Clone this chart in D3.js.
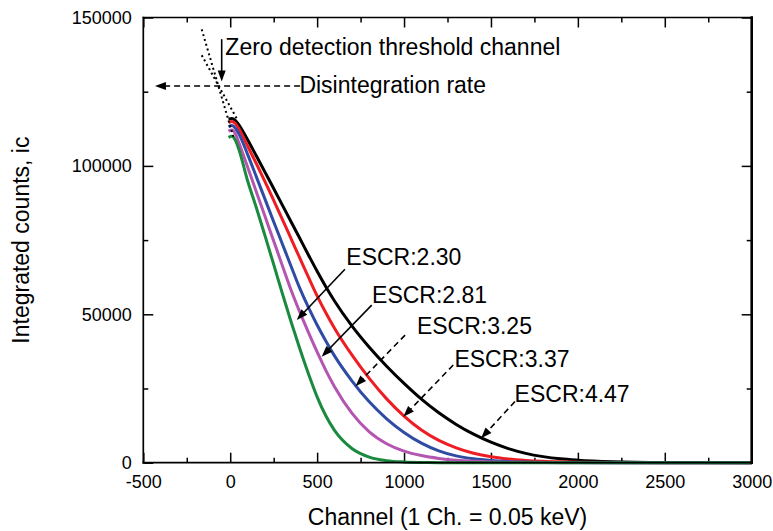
<!DOCTYPE html>
<html>
<head>
<meta charset="utf-8">
<script src="https://cdn.jsdelivr.net/npm/d3@7"></script>
<style>
  body { margin: 0; background: #fff; }
  text { font-family: "Liberation Sans", Arial, sans-serif; fill: #000; }
</style>
</head>
<body>
<div class="canvas"></div>
<script>
// channel grid shared by all curves
const channels = [-10, 10, 30, 50, 100, 150, 200, 250, 300, 350, 400, 450, 500, 550, 600,
  700, 800, 900, 1000, 1100, 1200, 1300, 1400, 1500, 1600, 1700, 1800, 1900, 2000, 2200, 2500, 3000];

// integrated counts for each ESCR value
const escr230 = [109600, 110000, 108600, 105500, 95000, 86000, 76500, 66800, 57000, 47500, 38500, 30000, 22200, 15800, 10900,
  4800, 1900, 700, 250, 80, 20, 0, 0, 0, 0, 0, 0, 0, 0, 0, 0, 0];
const escr281 = [111700, 112100, 110800, 107800, 99600, 91300, 83000, 74700, 66400, 58200, 50800, 43900, 37300, 31100, 25600,
  16700, 10400, 6400, 3900, 2400, 1450, 850, 480, 260, 140, 70, 35, 15, 5, 0, 0, 0];
const escr325 = [113200, 113600, 112700, 110800, 103900, 96400, 88800, 81200, 73700, 66200, 58800, 52300, 46400, 41000, 36000,
  27600, 20500, 14800, 10200, 6600, 4000, 2300, 1300, 720, 400, 220, 120, 60, 30, 10, 0, 0];
const escr337 = [114600, 115000, 114300, 112500, 106700, 100800, 94700, 88400, 82000, 75500, 69000, 62500, 56200, 50500, 45300,
  36300, 28400, 21500, 15700, 11000, 7500, 5000, 3200, 2000, 1250, 780, 480, 290, 170, 60, 10, 0];
const escr447 = [115800, 116000, 115300, 113800, 108800, 103400, 97900, 92400, 86800, 81200, 75600, 70000, 64500, 59300, 54500,
  46100, 38900, 32500, 26700, 21400, 16800, 12900, 9600, 6900, 4750, 3150, 2050, 1300, 850, 350, 90, 0];

const seriesNames = ["ESCR:2.30", "ESCR:2.81", "ESCR:3.25", "ESCR:3.37", "ESCR:4.47"];
const seriesValues = [escr230, escr281, escr325, escr337, escr447];
const seriesColors = ["#1a8a3f", "#b455b2", "#2f4ba3", "#ee1d24", "#000000"];

// dotted extrapolation lines back to the disintegration rate
const fitChannels447 = [-164, 37];
const fitCounts447 = [137300, 116000];
const fitChannels230 = [-164, 18];
const fitCounts230 = [146000, 109800];

// ticks
const xTicks = [-500, 0, 500, 1000, 1500, 2000, 2500, 3000];
const xMinor = [-250, 250, 750, 1250, 1750, 2250, 2750];
const yTicks = [0, 50000, 100000, 150000];
const yMinor = [25000, 75000, 125000];

const margin = {
  top: 17.5,
  bottom: 68.3,
  left: 143.3,
  right: 21.3,
};

const width = 773;
const height = 531;
const graphWidth = width - margin.left - margin.right;
const graphHeight = height - margin.top - margin.bottom;

const svg = d3
  .select(".canvas")
  .append("svg")
  .attr("width", width)
  .attr("height", height);

const graph = svg
  .append("g")
  .attr("transform", `translate(${margin.left},${margin.top})`);

// scales
const x = d3.scaleLinear().domain([-500, 3000]).range([0, graphWidth]);
const y = d3.scaleLinear().domain([0, 150000]).range([graphHeight, 0]);

// axes (ticks point inward on all four sides)
const fmt = (d) => String(d);
const styleAxis = (g) => {
  g.select(".domain").remove();
  g.selectAll(".tick line").attr("stroke", "#000").attr("stroke-width", 1.5);
  g.attr("font-size", 18).attr("font-family", '"Liberation Sans", Arial, sans-serif');
};

graph.append("g")
  .attr("transform", `translate(0,${graphHeight})`)
  .call(d3.axisBottom(x).tickValues(xTicks).tickSize(-10).tickPadding(12.5).tickFormat(fmt))
  .call(styleAxis);
graph.append("g")
  .attr("transform", `translate(0,${graphHeight})`)
  .call(d3.axisBottom(x).tickValues(xMinor).tickSize(-5).tickFormat(""))
  .call(styleAxis);
graph.append("g")
  .call(d3.axisTop(x).tickValues(xTicks).tickSize(-10).tickFormat(""))
  .call(styleAxis);
graph.append("g")
  .call(d3.axisTop(x).tickValues(xMinor).tickSize(-5).tickFormat(""))
  .call(styleAxis);
graph.append("g")
  .call(d3.axisLeft(y).tickValues(yTicks).tickSize(-10).tickPadding(11.5).tickFormat(fmt))
  .call(styleAxis);
graph.append("g")
  .call(d3.axisLeft(y).tickValues(yMinor).tickSize(-5).tickFormat(""))
  .call(styleAxis);
graph.append("g")
  .attr("transform", `translate(${graphWidth},0)`)
  .call(d3.axisRight(y).tickValues(yTicks).tickSize(-10).tickFormat(""))
  .call(styleAxis);
graph.append("g")
  .attr("transform", `translate(${graphWidth},0)`)
  .call(d3.axisRight(y).tickValues(yMinor).tickSize(-5).tickFormat(""))
  .call(styleAxis);

// curves
const line = d3
  .line()
  .x((d) => x(d[0]))
  .y((d) => y(d[1]))
  .curve(d3.curveMonotoneX);

const order = [4, 3, 2, 1, 0];
order.forEach((i) => {
  graph.append("path")
    .datum(channels.map((c, k) => [c, seriesValues[i][k]]))
    .attr("fill", "none")
    .attr("stroke", seriesColors[i])
    .attr("stroke-width", 3)
    .attr("stroke-linejoin", "round")
    .attr("d", line);
});

// dotted extrapolations
[[fitChannels447, fitCounts447], [fitChannels230, fitCounts230]].forEach(([cs, vs]) => {
  graph.append("path")
    .datum(cs.map((c, k) => [c, vs[k]]))
    .attr("fill", "none")
    .attr("stroke", "#000")
    .attr("stroke-width", 2)
    .attr("stroke-dasharray", "2,3")
    .attr("d", d3.line().x((d) => x(d[0])).y((d) => y(d[1])));
});

// frame
const frame = [
  [0, 0, graphWidth, 0, 1.5],
  [0, 0, 0, graphHeight, 1.7],
  [0, graphHeight, graphWidth, graphHeight, 1.8],
  [graphWidth, 0, graphWidth, graphHeight, 2.6],
];
frame.forEach(([x1, y1, x2, y2, w]) => {
  graph.append("line")
    .attr("x1", x1).attr("y1", y1).attr("x2", x2).attr("y2", y2)
    .attr("stroke", "#000").attr("stroke-width", w).attr("stroke-linecap", "square");
});

// arrow helper: line from (from) to (to) in data units, filled head at "to"
function arrow(from, to, dashed) {
  const x1 = x(from[0]), y1 = y(from[1]);
  const x2 = x(to[0]), y2 = y(to[1]);
  const len = Math.hypot(x2 - x1, y2 - y1);
  const ux = (x2 - x1) / len, uy = (y2 - y1) / len;
  const head = 11, half = 4;
  const bx = x2 - ux * head, by = y2 - uy * head;
  graph.append("line")
    .attr("x1", x1).attr("y1", y1).attr("x2", bx + ux * 1).attr("y2", by + uy * 1)
    .attr("stroke", "#000").attr("stroke-width", 1.6)
    .attr("stroke-dasharray", dashed ? "6,4" : null);
  graph.append("path")
    .attr("d", `M${x2},${y2}L${bx - uy * half},${by + ux * half}L${bx + uy * half},${by - ux * half}Z`)
    .attr("fill", "#000");
}

function label(text, at) {
  graph.append("text")
    .attr("x", x(at[0]))
    .attr("y", y(at[1]))
    .attr("font-size", 23)
    .text(text);
}

// ESCR annotations (text anchor, arrow start, arrow tip; data units)
const notes = [
  { at: [668, 66600], from: [660, 65200], to: [383, 48100], dashed: false },
  { at: [816, 53900], from: [814, 53100], to: [526, 35700], dashed: false },
  { at: [1074, 43400], from: [1006, 43000], to: [721, 25800], dashed: true },
  { at: [1290, 32300], from: [1283, 32900], to: [996, 15500], dashed: true },
  { at: [1636, 20600], from: [1638, 20600], to: [1443, 8200], dashed: true },
];
notes.forEach((n, i) => {
  arrow(n.from, n.to, n.dashed);
  label(seriesNames[i], n.at);
});

// zero detection threshold channel
arrow([-49, 142700], [-49, 128400], false);
label("Zero detection threshold channel", [-28, 137500]);

// disintegration rate
arrow([402, 126900], [-433, 126900], true);
label("Disintegration rate", [398, 124400]);

// axis titles
svg.append("text")
  .attr("x", margin.left + graphWidth / 2)
  .attr("y", 525)
  .attr("text-anchor", "middle")
  .attr("font-size", 23)
  .text("Channel (1 Ch. = 0.05 keV)");

svg.append("text")
  .attr("transform", `translate(29,${margin.top + graphHeight / 2}) rotate(-90)`)
  .attr("text-anchor", "middle")
  .attr("font-size", 23)
  .text("Integrated counts, ic");
</script>
</body>
</html>
